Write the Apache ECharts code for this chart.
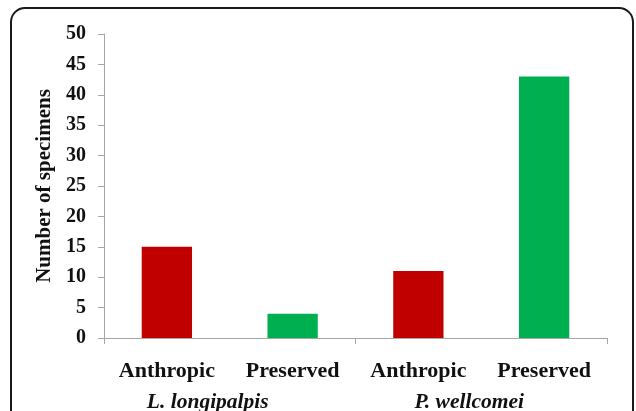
<!DOCTYPE html>
<html>
<head>
<meta charset="utf-8">
<script src="https://cdn.jsdelivr.net/npm/echarts@6/dist/echarts.min.js"></script>
<style>
  html, body { margin: 0; padding: 0; background: #fff; }
  #chart { width: 636px; height: 411px; }
</style>
</head>
<body>
<div id="chart"></div>
<script>
const categories = ['Anthropic', 'Preserved', 'Anthropic', 'Preserved'];
const groups = ['L. longipalpis', 'P. wellcomei'];
const values = [15, 4, 11, 43];
const barColors = ['#C00000', '#00B050', '#C00000', '#00B050'];
const yTicks = [0, 5, 10, 15, 20, 25, 30, 35, 40, 45, 50];
const yAxisTitle = 'Number of specimens';

const chart = echarts.init(document.getElementById('chart'), null, { renderer: 'canvas' });
const serif = '"Liberation Serif", "Times New Roman", serif';

chart.setOption({
  animation: false,
  backgroundColor: '#fff',
  graphic: [{
    type: 'rect',
    shape: { x: 11, y: 8, width: 622, height: 520, r: 14 },
    style: { fill: 'none', stroke: '#1a1a1a', lineWidth: 2 },
    silent: true,
    z: 100
  }],
  grid: { left: 104, right: 29, top: 34, bottom: 73, containLabel: false, outerBoundsMode: 'none' },
  xAxis: [{
    type: 'category',
    data: categories,
    axisLine: { show: true, lineStyle: { color: '#a6a6a6', width: 1 } },
    axisTick: { show: false },
    axisLabel: {
      interval: 0, margin: 22,
      fontFamily: serif, fontWeight: 'bold', fontSize: 22, color: '#111'
    }
  }, {
    type: 'category',
    data: groups,
    position: 'bottom',
    axisLine: { show: true, lineStyle: { color: '#a6a6a6', width: 1 } },
    axisTick: { show: true, length: 6, lineStyle: { color: '#a6a6a6' } },
    axisLabel: {
      interval: 0, margin: 53,
      fontFamily: serif, fontWeight: 'bold', fontStyle: 'italic', fontSize: 21.5, color: '#111',
      formatter: function (v, i) { return i === 0 ? '{a|' + v + '}' : '{b|' + v + '}'; },
      rich: {
        a: { fontFamily: serif, fontWeight: 'bold', fontStyle: 'italic', fontSize: 21.5, color: '#111', padding: [0, 44, 0, 0] },
        b: { fontFamily: serif, fontWeight: 'bold', fontStyle: 'italic', fontSize: 21.5, color: '#111', padding: [0, 24, 0, 0] }
      }
    }
  }],
  yAxis: {
    type: 'value',
    min: yTicks[0], max: yTicks[yTicks.length - 1], interval: 5,
    name: yAxisTitle,
    nameLocation: 'middle',
    nameGap: 37,
    nameTextStyle: { fontFamily: serif, fontWeight: 'bold', fontSize: 21, color: '#111' },
    axisLine: { show: true, lineStyle: { color: '#a6a6a6', width: 1 } },
    axisTick: { show: true, length: 6, lineStyle: { color: '#a6a6a6' } },
    splitLine: { show: false },
    axisLabel: { margin: 18, fontFamily: serif, fontWeight: 'bold', fontSize: 20, color: '#111' }
  },
  series: [{
    type: 'bar',
    xAxisIndex: 0,
    data: values.map((v, i) => ({ value: v, itemStyle: { color: barColors[i] } })),
    barWidth: '40%'
  }]
});
</script>
</body>
</html>
